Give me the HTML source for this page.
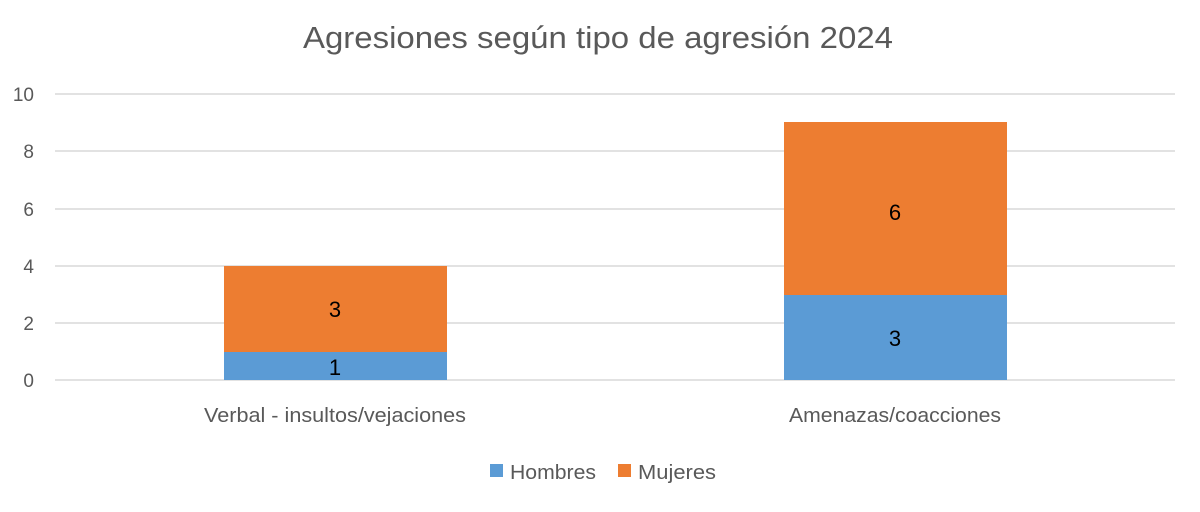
<!DOCTYPE html>
<html><head><meta charset="utf-8"><style>
body{margin:0;background:#fff;width:1200px;height:507px;overflow:hidden;font-family:"Liberation Sans",sans-serif}
</style></head><body>
<svg width="1200" height="507" xmlns="http://www.w3.org/2000/svg" font-family="Liberation Sans, sans-serif">
<rect width="1200" height="507" fill="#fff"/>
<text x="598" y="48" text-anchor="middle" font-size="31" fill="#595959" textLength="590" lengthAdjust="spacingAndGlyphs">Agresiones según tipo de agresión 2024</text>
<g stroke="#d9d9d9" stroke-width="1.5">
<line x1="55" x2="1175" y1="94" y2="94"/>
<line x1="55" x2="1175" y1="151" y2="151"/>
<line x1="55" x2="1175" y1="209" y2="209"/>
<line x1="55" x2="1175" y1="266" y2="266"/>
<line x1="55" x2="1175" y1="323" y2="323"/>
<line x1="55" x2="1175" y1="380" y2="380"/>
</g>
<g font-size="19" fill="#595959" text-anchor="end">
<text x="34" y="101">10</text><text x="34" y="158">8</text><text x="34" y="216">6</text>
<text x="34" y="273">4</text><text x="34" y="330">2</text><text x="34" y="387">0</text>
</g>
<rect x="224" y="352" width="223" height="28" fill="#5b9bd5"/>
<rect x="224" y="266" width="223" height="86" fill="#ed7d31"/>
<rect x="784" y="295" width="223" height="85" fill="#5b9bd5"/>
<rect x="784" y="122" width="223" height="173" fill="#ed7d31"/>
<g font-size="22" fill="#000" text-anchor="middle">
<text x="335" y="375">1</text><text x="335" y="317">3</text>
<text x="895" y="346">3</text><text x="895" y="220">6</text>
</g>
<g font-size="20" fill="#595959" text-anchor="middle">
<text x="335" y="422" textLength="262" lengthAdjust="spacingAndGlyphs">Verbal - insultos/vejaciones</text>
<text x="895" y="422" textLength="212" lengthAdjust="spacingAndGlyphs">Amenazas/coacciones</text>
</g>
<rect x="490" y="464" width="13" height="13" fill="#5b9bd5"/>
<text x="510" y="479" font-size="20" fill="#595959" textLength="86" lengthAdjust="spacingAndGlyphs">Hombres</text>
<rect x="618" y="464" width="13" height="13" fill="#ed7d31"/>
<text x="638" y="479" font-size="20" fill="#595959" textLength="78" lengthAdjust="spacingAndGlyphs">Mujeres</text>
</svg>
</body></html>
